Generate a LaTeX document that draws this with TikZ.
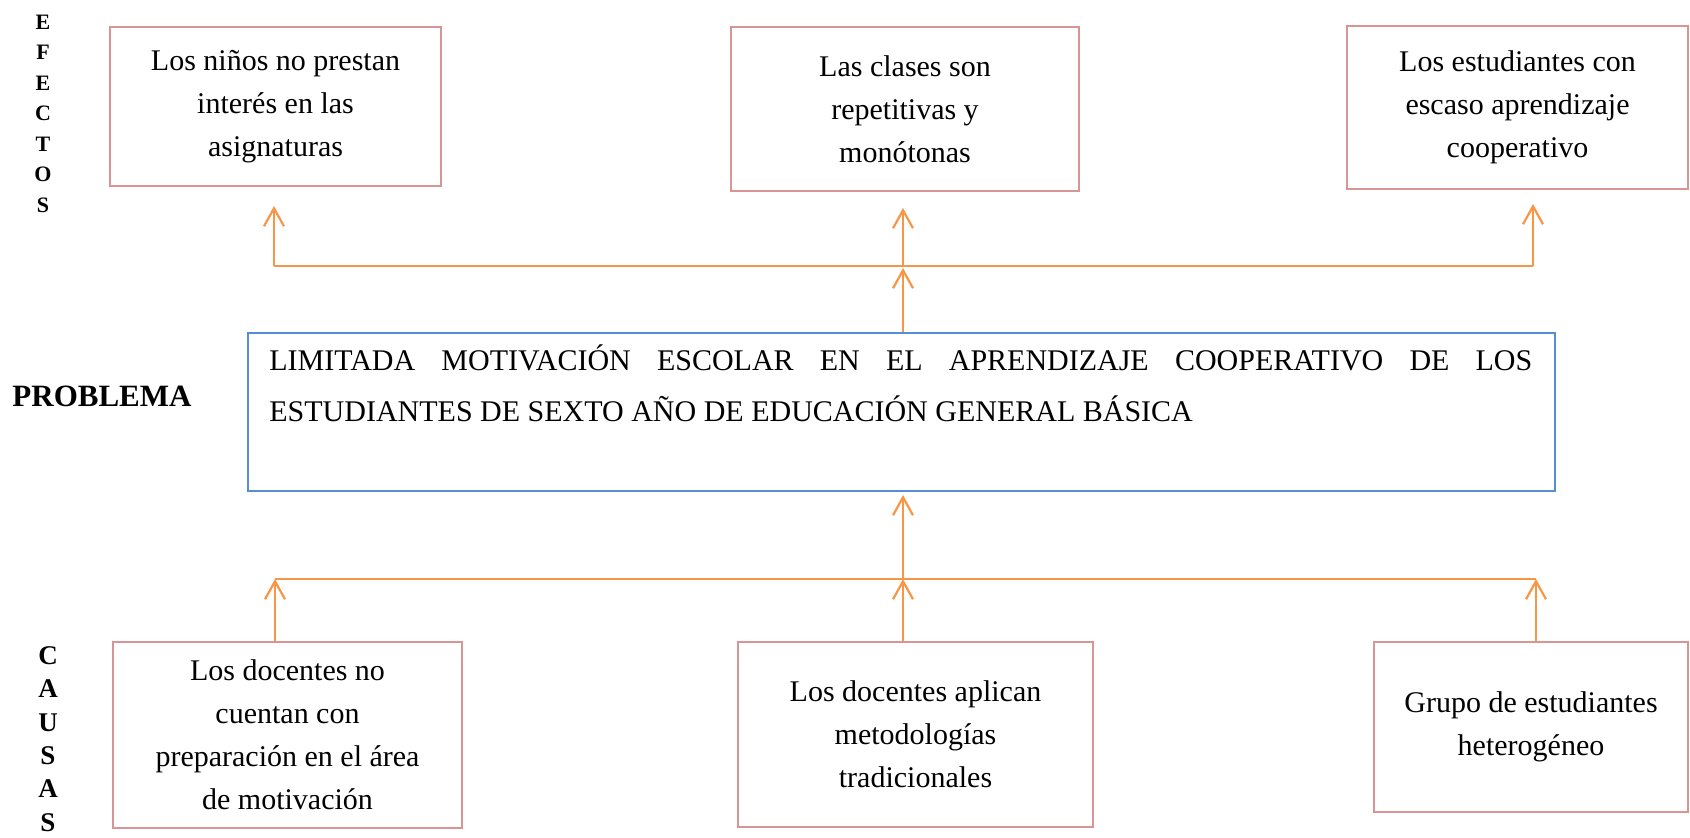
\documentclass[tikz,border=0pt]{standalone}
\usepackage{fontspec}
\setmainfont{Liberation Serif}
\usetikzlibrary{arrows.meta}
\definecolor{boxpink}{RGB}{217,149,148}
\definecolor{boxblue}{RGB}{85,142,213}
\definecolor{arrorange}{RGB}{247,150,70}
\begin{document}
\begin{tikzpicture}[x=0.5pt,y=-0.5pt,
  cbox/.style={draw=boxpink, line width=1pt, inner sep=0pt, align=center, font=\fontsize{15}{21.5}\selectfont},
  pbox/.style={draw=boxblue, line width=1pt, inner sep=0pt},
  ptext/.style={anchor=base west, inner sep=0pt, font=\fontsize{15}{21.5}\selectfont},
  hline/.style={draw=arrorange, line width=0.8pt},
  arr/.style={draw=arrorange, line width=1.1pt, -{Straight Barb[length=9pt,width=10pt]}},
  vlabel/.style={align=center, inner sep=0pt}]
\useasboundingbox (0,0) rectangle (1690,838);

% effects
\node[cbox, minimum width=165.5pt, minimum height=79.5pt] (e1) at (275.5,106.5) {Los niños no prestan\\interés en las\\asignaturas};
\node[cbox, minimum width=174pt, minimum height=82pt] (e2) at (905,109) {Las clases son\\repetitivas y\\monótonas};
\node[cbox, minimum width=170.5pt, minimum height=81.5pt] (e3) at (1517.5,107.5) {Los estudiantes con\\escaso aprendizaje\\cooperativo};

% problem
\node[pbox, minimum width=653.5pt, minimum height=79pt] (p) at (901.5,412) {};
\node[ptext] (pt1) at (269,371) {\makebox[631.5pt][s]{LIMITADA MOTIVACIÓN ESCOLAR EN EL APRENDIZAJE COOPERATIVO DE LOS}};
\node[ptext] (pt2) at (269,422) {ESTUDIANTES DE SEXTO AÑO DE EDUCACIÓN GENERAL BÁSICA};

% causes
\node[cbox, minimum width=174.5pt, minimum height=93pt] (c1) at (287.5,735) {Los docentes no\\cuentan con\\preparación en el área\\de motivación};
\node[cbox, minimum width=177.5pt, minimum height=92.5pt] (c2) at (915.5,734.5) {Los docentes aplican\\metodologías\\tradicionales};
\node[cbox, minimum width=157pt, minimum height=85pt] (c3) at (1531,727) {Grupo de estudiantes\\heterogéneo};

% side labels
\node[vlabel, font=\bfseries\fontsize{11}{15.25}\selectfont] (efectos) at (43,113.5) {E\\F\\E\\C\\T\\O\\S};
\node[vlabel, font=\bfseries\fontsize{13.5}{16.7}\selectfont] (causas) at (48,739) {C\\A\\U\\S\\A\\S};
\node[vlabel, font=\bfseries\fontsize{15.5}{18}\selectfont] (problema) at (102,396) {PROBLEMA};

% upper connectors
\coordinate (ej1) at (274,266);
\coordinate (ej2) at (903,266);
\coordinate (ej3) at (1533,266);
\draw[hline] (ej1) -- (ej3);
\draw[arr, shorten >=9.5pt] (ej1) -- (ej1 |- e1.south);
\draw[arr, shorten >=8pt] (ej2) -- (ej2 |- e2.south);
\draw[arr, shorten >=7pt] (ej3) -- (ej3 |- e3.south);
\draw[arr, shorten >=1pt] (p.north -| ej2) -- (ej2);

% lower connectors
\coordinate (cj1) at (275,579);
\coordinate (cj2) at (903,579);
\coordinate (cj3) at (1536,579);
\draw[hline] (cj1) -- (cj3);
\draw[arr] (c1.north -| cj1) -- (cj1);
\draw[arr] (c2.north -| cj2) -- (cj2);
\draw[arr] (c3.north -| cj3) -- (cj3);
\draw[arr, shorten >=1.5pt] (cj2) -- (cj2 |- p.south);
\end{tikzpicture}
\end{document}
